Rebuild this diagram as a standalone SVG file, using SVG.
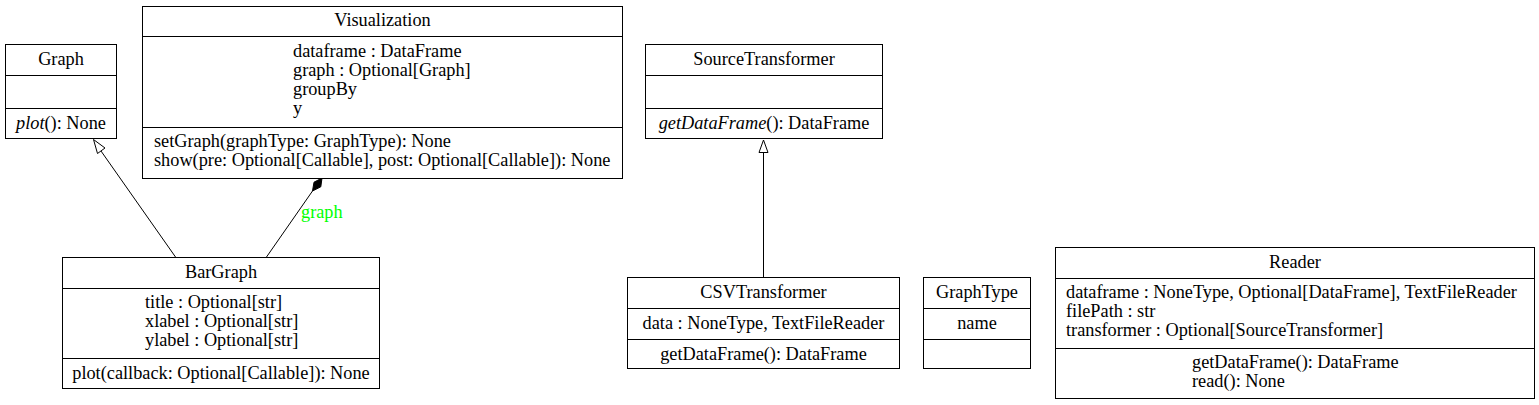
<svg xmlns="http://www.w3.org/2000/svg" width="1539" height="405" viewBox="0 0 1539 405">
<style>
rect.box{fill:#fff;stroke:#000;stroke-width:1}
line.div{stroke:#000;stroke-width:1}
text{font-family:"Liberation Serif","Times New Roman",serif;font-size:18.3px;fill:#000}
.c{text-anchor:middle}
.i{font-style:italic}
.edge{stroke:#000;stroke-width:1;fill:none}
.lbl{fill:#00ff00}
</style>
<rect width="1539" height="405" fill="#fff"/>
<g id="connectors">
<line class="edge" x1="175.5" y1="257" x2="101" y2="151"/>
<polygon points="93.5,139.5 97.5,153.5 105,148" fill="#fff" stroke="#000"/>
<line class="edge" x1="266.5" y1="257" x2="312.5" y2="191"/>
<polygon points="322,178 320.8,186.8 312.5,191 314,182.2" fill="#000" stroke="#000"/>
<text class="lbl" x="301" y="218">graph</text>
<line class="edge" x1="763.5" y1="277" x2="763.5" y2="152.5"/>
<polygon points="763.5,140 759,152.5 768,152.5" fill="#fff" stroke="#000"/>
</g>
<g id="Graph">
<rect class="box" x="5.5" y="44.5" width="111" height="94"/>
<line class="div" x1="5.5" y1="75.5" x2="116.5" y2="75.5"/>
<line class="div" x1="5.5" y1="108.5" x2="116.5" y2="108.5"/>
<text class="c" x="61" y="65">Graph</text>
<text class="c" x="61" y="129"><tspan class="i">plot</tspan>(): None</text>
</g>
<g id="Visualization">
<rect class="box" x="142.5" y="6.5" width="480" height="172"/>
<line class="div" x1="142.5" y1="36.5" x2="622.5" y2="36.5"/>
<line class="div" x1="142.5" y1="127.5" x2="622.5" y2="127.5"/>
<text class="c" x="382.5" y="26">Visualization</text>
<text x="293" y="57">dataframe : DataFrame</text>
<text x="293" y="76">graph : Optional[Graph]</text>
<text x="293" y="95">groupBy</text>
<text x="293" y="114">y</text>
<text x="154" y="147">setGraph(graphType: GraphType): None</text>
<text x="154" y="166">show(pre: Optional[Callable], post: Optional[Callable]): None</text>
</g>
<g id="BarGraph">
<rect class="box" x="62.5" y="257.5" width="317" height="131"/>
<line class="div" x1="62.5" y1="288.5" x2="379.5" y2="288.5"/>
<line class="div" x1="62.5" y1="358.5" x2="379.5" y2="358.5"/>
<text class="c" x="221" y="278">BarGraph</text>
<text x="145" y="308">title : Optional[str]</text>
<text x="145" y="327">xlabel : Optional[str]</text>
<text x="145" y="346">ylabel : Optional[str]</text>
<text class="c" x="221" y="379">plot(callback: Optional[Callable]): None</text>
</g>
<g id="SourceTransformer">
<rect class="box" x="645.5" y="44.5" width="237" height="94"/>
<line class="div" x1="645.5" y1="75.5" x2="882.5" y2="75.5"/>
<line class="div" x1="645.5" y1="108.5" x2="882.5" y2="108.5"/>
<text class="c" x="764" y="65">SourceTransformer</text>
<text class="c" x="764" y="129"><tspan class="i">getDataFrame</tspan>(): DataFrame</text>
</g>
<g id="CSVTransformer">
<rect class="box" x="627.5" y="277.5" width="272" height="91"/>
<line class="div" x1="627.5" y1="308.5" x2="899.5" y2="308.5"/>
<line class="div" x1="627.5" y1="339.5" x2="899.5" y2="339.5"/>
<text class="c" x="763.5" y="298">CSVTransformer</text>
<text class="c" x="763.5" y="329">data : NoneType, TextFileReader</text>
<text class="c" x="763.5" y="360">getDataFrame(): DataFrame</text>
</g>
<g id="GraphType">
<rect class="box" x="923.5" y="277.5" width="107" height="91"/>
<line class="div" x1="923.5" y1="308.5" x2="1030.5" y2="308.5"/>
<line class="div" x1="923.5" y1="339.5" x2="1030.5" y2="339.5"/>
<text class="c" x="977" y="298">GraphType</text>
<text class="c" x="977" y="329">name</text>
</g>
<g id="Reader">
<rect class="box" x="1055.5" y="247.5" width="479" height="151"/>
<line class="div" x1="1055.5" y1="278.5" x2="1534.5" y2="278.5"/>
<line class="div" x1="1055.5" y1="348.5" x2="1534.5" y2="348.5"/>
<text class="c" x="1295" y="268">Reader</text>
<text x="1066" y="298">dataframe : NoneType, Optional[DataFrame], TextFileReader</text>
<text x="1066" y="317">filePath : str</text>
<text x="1066" y="336">transformer : Optional[SourceTransformer]</text>
<text x="1192" y="368">getDataFrame(): DataFrame</text>
<text x="1192" y="387">read(): None</text>
</g>
</svg>
